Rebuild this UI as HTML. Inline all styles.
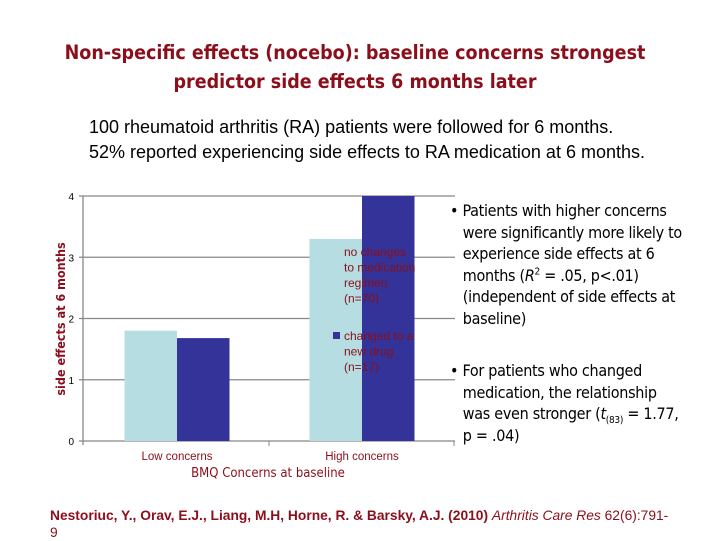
<!DOCTYPE html>
<html><head><meta charset="utf-8"><style>
body{margin:0;width:720px;height:540px;background:#fff;overflow:hidden;position:relative;font-family:"Liberation Sans",sans-serif}
.t{position:absolute;white-space:nowrap}
.b{position:absolute;white-space:nowrap;left:450px;font-size:16px;line-height:21.5px;color:#000;font-family:'DejaVu Sans Condensed','Liberation Sans',sans-serif;letter-spacing:-0.3px}
sup,sub{line-height:0;font-size:10px}
</style></head><body>
<div class="t" style="left:0;width:710px;top:38px;text-align:center;color:#8b0e1a;font-weight:bold;font-size:19.5px;line-height:29px;font-family:'DejaVu Sans Condensed','Liberation Sans Narrow',sans-serif;">Non-specific effects (nocebo): baseline concerns strongest<br>predictor side effects 6 months later</div>
<div class="t" style="left:89px;top:115px;font-size:18px;line-height:25px;color:#000">100 rheumatoid arthritis (RA) patients were followed for 6 months.<br>52% reported experiencing side effects to RA medication at 6 months.</div>
<svg id="c" width="720" height="540" style="position:absolute;left:0;top:0"></svg>
<div class="b" style="top:200px">
• Patients with higher concerns<br>&nbsp;&nbsp; were significantly more likely to<br>&nbsp;&nbsp; experience side effects at 6<br>&nbsp;&nbsp; months (<i>R</i><sup>2</sup> = .05, p&lt;.01)<br>&nbsp;&nbsp; (independent of side effects at<br>&nbsp;&nbsp; baseline)</div>
<div class="b" style="top:360px">
• For patients who changed<br>&nbsp;&nbsp; medication, the relationship<br>&nbsp;&nbsp; was even stronger (<i>t</i><sub>(83)</sub> = 1.77,<br>&nbsp;&nbsp; p = .04)</div>
<div class="t" style="left:50px;top:507px;font-size:13.8px;line-height:17px;color:#8b0e1a;font-weight:bold">Nestoriuc, Y., Orav, E.J., Liang, M.H, Horne, R. &amp; Barsky, A.J. (2010) <i style="font-weight:normal">Arthritis Care Res</i> <span style="font-weight:normal">62(6):791-</span><br><span style="font-weight:normal">9</span></div>
<script>
const categories=["Low concerns","High concerns"];
const seriesNames=["no changes to medication regimen (n=70)","changed to a new drug (n=17)"];
const noChange=[1.8,3.3];
const changed=[1.68,4.0];
const yTicks=[0,1,2,3,4];
const svg=document.getElementById('c');const NS='http://www.w3.org/2000/svg';
const x0=83,x1=455,y0=441,y1=196;
const y=v=>y0-(v-0)/(4-0)*(y0-y1);
const band=185;
function mk(tag,a,txt){const e=document.createElementNS(NS,tag);for(const k in a)e.setAttribute(k,a[k]);if(txt!=null)e.textContent=txt;svg.appendChild(e);return e;}
yTicks.forEach(t=>{
 const l=mk('line',{x1:x0-4,x2:x1,y1:y(t),y2:y(t),stroke:'#888','stroke-width':1.3});
 
 
 const tx=mk('text',{x:x0-9,y:y(t)+4,'font-size':10,'text-anchor':'end',fill:'#000','font-family':'Liberation Sans'},t);
 
 
});
mk('line',{x1:x0,x2:x0,y1:y1,y2:y0+4,stroke:'#888','stroke-width':1.3});
const bw=52.5;
categories.forEach((c,i)=>{
 const cx=x0+band*(i+0.5)+1.5;
 const a=mk('rect',{x:cx-bw,y:y(noChange[i]),width:bw,height:y0-y(noChange[i]),fill:'#b6dde1'});
 
 
 const b=mk('rect',{x:cx,y:y(changed[i]),width:bw,height:y0-y(changed[i]),fill:'#333399'});
 
 
 const lt=mk('text',{x:cx,y:460,'font-size':11.5,'text-anchor':'middle',fill:'#8b0e1a','font-family':'Liberation Sans'},c);
 
 
 mk('line',{x1:x0+band*(i+1)+1,x2:x0+band*(i+1)+1,y1:y0,y2:y0+5,stroke:'#888'});
});
const xt=mk('text',{x:268,y:477,'font-size':13,'text-anchor':'middle',fill:'#8b0e1a','font-family':'DejaVu Sans Condensed'},'BMQ Concerns at baseline');


const yt=mk('text',{x:0,y:0,'font-size':12.5,'font-weight':'bold','text-anchor':'middle',fill:'#8b0e1a','font-family':'DejaVu Sans Condensed',transform:'translate(65,319) rotate(-90)'},'side effects at 6 months');


const leg1=["no changes","to medication","regimen","(n=70)"];
leg1.forEach((s,i)=>{const t=mk('text',{x:344,y:256+i*15.5,'font-size':12,fill:'#8b0e1a','font-family':'Liberation Sans'},s);
 
 });
const m=mk('rect',{x:333,y:332,width:7,height:7,fill:'#333399'});


["changed to a","new drug","(n=17)"].forEach((s,i)=>{const t=mk('text',{x:344,y:340+i*15.5,'font-size':12,fill:'#8b0e1a','font-family':'Liberation Sans'},s);
 
 });
</script>
</body></html>
